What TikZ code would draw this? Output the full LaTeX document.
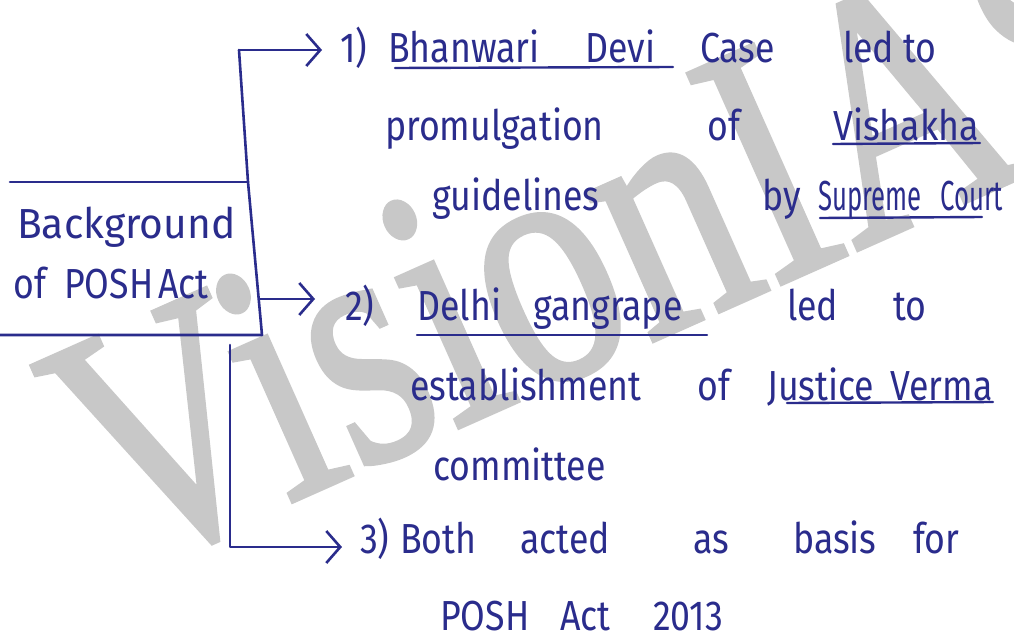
\documentclass[tikz,border=0pt]{standalone}
\usepackage{fontspec}
\setmainfont{Fira Sans}
\newfontfamily\wmfont[FakeBold=1.5]{Liberation Serif}
\usetikzlibrary{arrows.meta}
\definecolor{ink}{RGB}{42,44,140}
\definecolor{wmgray}{RGB}{200,200,200}
\begin{document}
\begin{tikzpicture}[x=1pt,y=-1pt,
  hw/.style={anchor=base west, inner sep=0pt, text=ink, xscale=0.85,
    font=\fontsize{42}{50}\selectfont},
  tight/.style={xscale=0.72},
  pen/.style={draw=ink, line width=2.6pt, line cap=round, line join=round},
  arr/.style={pen, -{Straight Barb[length=14pt,width=32pt]}},
  uline/.style={draw=ink, line width=2.4pt, line cap=round},
  wm/.style={anchor=base west, inner sep=0pt, rotate=24, xscale=0.78, text=wmgray,
    font=\wmfont\fontsize{350}{350}\selectfont}]
\useasboundingbox (0,0) rectangle (1014,637);
\fill[white] (0,0) rectangle (1014,637);
\begin{scope}
  \clip (0,0) rectangle (1014,637);
  \node[wm] (wmark) at (122,577) {VisionIAS};
\end{scope}
\node[hw, xscale=1.14] (bga) at (17,238) {Background};
\foreach \n/\x/\y/\t in {
  bgb/13/298/of,
  bgc/64/298/POSH,
  bgd/158/298/Act,
  % line 1
  a1/340/62/1),
  a2/388/62/Bhanwari,
  a3/585/62/Devi,
  a4/700/62/Case,
  a5/843/62/led,
  a6/903/62/to,
  % line 2
  b1/385/140/promulgation,
  b2/707/140/of,
  b3/833/140/Vishakha,
  % line 3
  c1/432/210/guidelines,
  c2/762/210/by,
  % line 4
  d1/345/320/2),
  d2/417/320/Delhi,
  d3/533/320/gangrape,
  d4/787/320/led,
  d5/893/320/to,
  % line 5
  e1/410/400/establishment,
  e2/697/400/of,
  e3/767/400/Justice,
  e4/890/400/Verma,
  % line 6
  f1/433/480/committee,
  % line 7
  g1/360/553/3),
  g2/400/553/Both,
  g3/520/553/acted,
  g4/693/553/as,
  g5/793/553/basis,
  g6/913/553/for,
  % line 8
  h1/440/630/POSH,
  h2/560/630/Act,
  h3/653/630/2013}
  \node[hw] (\n) at (\x,\y) {\t};
\node[hw, tight] (c3) at (818,210) {Supreme};
\node[hw, tight] (c4) at (940,210) {Court};
% underlines
\draw[uline] (820,218) -- (982,217);
\draw[uline] (395,68) -- (673,67);
\draw[uline] (833,144) -- (980,143);
\draw[uline] (417,335) -- (707,335);
\draw[uline] (787,403) -- (993,402);
% box and connectors
\coordinate (c1p) at (239,50);
\coordinate (tr) at (248,182);
\coordinate (br) at (262,335);
\coordinate (tl) at (10,182);
\coordinate (bl) at (0,335);
\coordinate (j2) at (259.5,299);
\coordinate (e1p) at (322,50);
\coordinate (e2p) at (315,299);
\coordinate (s3) at (230,345);
\coordinate (k3) at (230,547);
\coordinate (e3p) at (342,547);
\draw[pen] (tl) -- (tr);
\draw[pen] (c1p) -- (tr) -- (br) -- (bl);
\draw[arr] (c1p) -- (e1p);
\draw[arr] (j2) -- (e2p);
\draw[arr] (s3) -- (k3) -- (e3p);
\end{tikzpicture}
\end{document}
